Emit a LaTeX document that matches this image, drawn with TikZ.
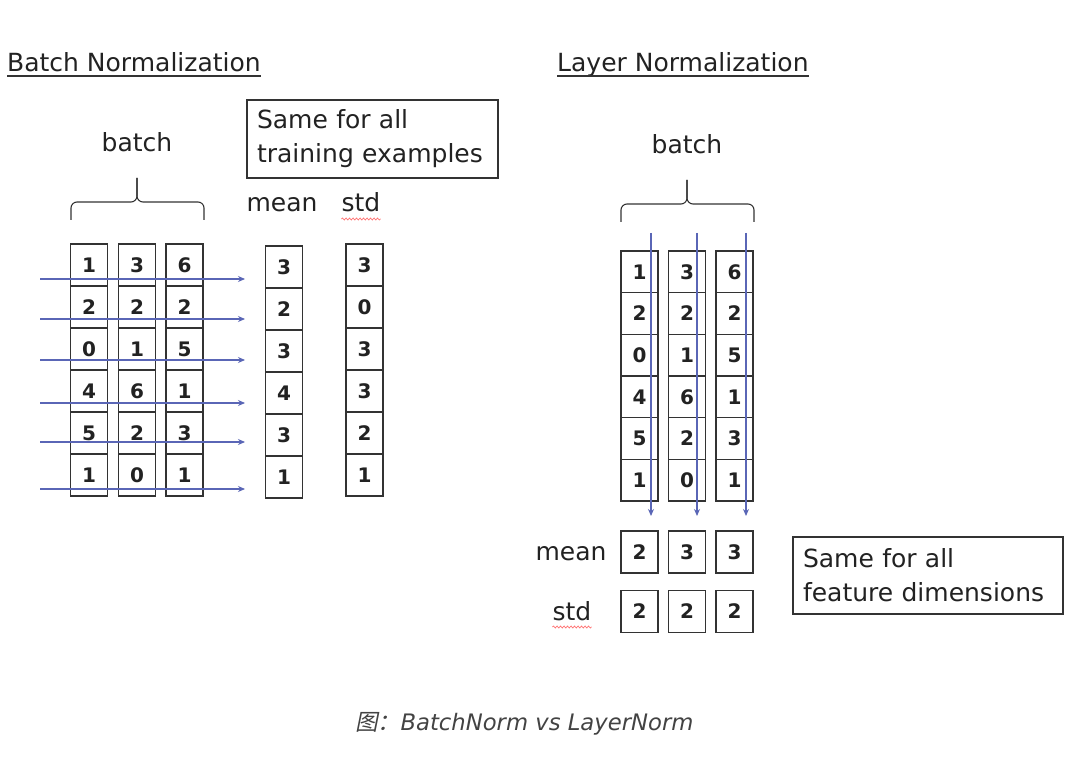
\documentclass[tikz,border=0pt]{standalone}
\usepackage{fontspec}
\setmainfont{DejaVu Sans}
\newfontfamily\cjk[FakeSlant=0.2]{Noto Sans CJK SC}
\usetikzlibrary{arrows.meta,decorations.pathmorphing}
\definecolor{ink}{HTML}{222222}
\definecolor{arr}{RGB}{90,102,182}
\definecolor{frame}{HTML}{333333}
\begin{document}
\begin{tikzpicture}[x=1pt,y=-1pt,
  txt/.style={inner sep=0pt, text=ink, font=\fontsize{25}{30}\selectfont},
  cell/.style={draw=frame, line width=1.2pt, minimum width=37pt, minimum height=42pt, inner sep=0pt, text=ink, font=\fontsize{20}{22}\selectfont\bfseries},
  rcell/.style={cell, minimum height=41.7pt},
  note/.style={draw=frame, line width=1.2pt, inner xsep=10pt, inner ysep=0pt, align=left, text=ink, font=\fontsize{25}{34}\selectfont},
  flow/.style={draw=arr, line width=1.7pt, -{Stealth[length=7pt,width=6pt]}},
  brace/.style={draw=frame, line width=1.1pt, rounded corners=6pt},
  squig/.style={draw=red!55, line width=0.7pt, decorate, decoration={snake, amplitude=1pt, segment length=3.5pt}}
]
\useasboundingbox[fill=white] (0,0) rectangle (1080,759);

% ---------- Batch Normalization ----------
\node[txt, anchor=base west] (bnT) at (7,72) {Batch Normalization};
\draw[frame, line width=1.2pt] ([yshift=-4pt]bnT.base west) -- ([yshift=-4pt]bnT.base east);

\node[txt, anchor=base] (bnB) at (137,152) {batch};
\coordinate (bnBl) at (71,220);
\coordinate (bnBr) at (204,220);
\coordinate (bnBm) at (137,202);
\coordinate (bnBt) at (137,178);
\draw[brace] (bnBl) |- (bnBm) -- (bnBt);
\draw[brace] (bnBr) |- (bnBm) -- (bnBt);

\node[note, text width=231pt, minimum width=251pt, minimum height=78pt] (bnN) at (372.5,139) {Same for all\\training examples};

\node[txt, anchor=base] (bnMean) at (282,212) {mean};
\node[txt, anchor=base] (bnStd) at (361,212) {std};
\draw[squig] ([yshift=-7pt]bnStd.base west) -- ([yshift=-7pt]bnStd.base east);

\foreach \va/\vb/\vc [count=\i] in {1/3/6,2/2/2,0/1/5,4/6/1,5/2/3,1/0/1} {
  \node[cell] (L\i a) at (89,{265+42*(\i-1)}) {\va};
  \node[cell] (L\i b) at (137,{265+42*(\i-1)}) {\vb};
  \node[cell] (L\i c) at (184.5,{265+42*(\i-1)}) {\vc};
}
\foreach \m/\s [count=\i] in {3/3,2/0,3/3,4/3,3/2,1/1} {
  \node[cell] (LM\i) at (284,{267+42*(\i-1)}) {\m};
  \node[cell] (LS\i) at (364.5,{265+42*(\i-1)}) {\s};
}
\foreach \y [count=\i] in {279,319,360,403,442,489} {
  \coordinate (la\i s) at (40,\y);
  \coordinate (la\i e) at (245,\y);
  \draw[flow] (la\i s) -- (la\i e);
}

% ---------- Layer Normalization ----------
\node[txt, anchor=base west] (lnT) at (557,72) {Layer Normalization};
\draw[frame, line width=1.2pt] ([yshift=-4pt]lnT.base west) -- ([yshift=-4pt]lnT.base east);

\node[txt, anchor=base] (lnB) at (687,154) {batch};
\coordinate (lnBl) at (621,222);
\coordinate (lnBr) at (754,222);
\coordinate (lnBm) at (687,204);
\coordinate (lnBt) at (687,180);
\draw[brace] (lnBl) |- (lnBm) -- (lnBt);
\draw[brace] (lnBr) |- (lnBm) -- (lnBt);

\foreach \va/\vb/\vc [count=\i] in {1/3/6,2/2/2,0/1/5,4/6/1,5/2/3,1/0/1} {
  \node[rcell] (R\i a) at (639.5,{271.8+41.67*(\i-1)}) {\va};
  \node[rcell] (R\i b) at (687,{271.8+41.67*(\i-1)}) {\vb};
  \node[rcell] (R\i c) at (734.5,{271.8+41.67*(\i-1)}) {\vc};
}
\foreach \x [count=\i] in {651,697,746} {
  \coordinate (ra\i s) at (\x,233);
  \coordinate (ra\i e) at (\x,516);
  \draw[flow] (ra\i s) -- (ra\i e);
}
\node[txt, anchor=base] (lnMean) at (571,560) {mean};
\node[txt, anchor=base] (lnStd) at (572,620) {std};
\draw[squig] ([yshift=-7pt]lnStd.base west) -- ([yshift=-7pt]lnStd.base east);
\foreach \m/\s/\x [count=\i] in {2/2/639.5,3/2/687,3/2/734.5} {
  \node[cell] (RM\i) at (\x,552) {\m};
  \node[cell] (RS\i) at (\x,611.5) {\s};
}

\node[note, text width=250pt, minimum width=270pt, minimum height=77pt] (lnN) at (928,575.5) {Same for all\\feature dimensions};

% ---------- caption ----------
\node[inner sep=0pt, anchor=base west, text=ink!85, font=\fontsize{22.7}{26}\selectfont] (cap) at (355,730) {{\cjk 图：}\itshape BatchNorm vs LayerNorm};
\end{tikzpicture}
\end{document}
